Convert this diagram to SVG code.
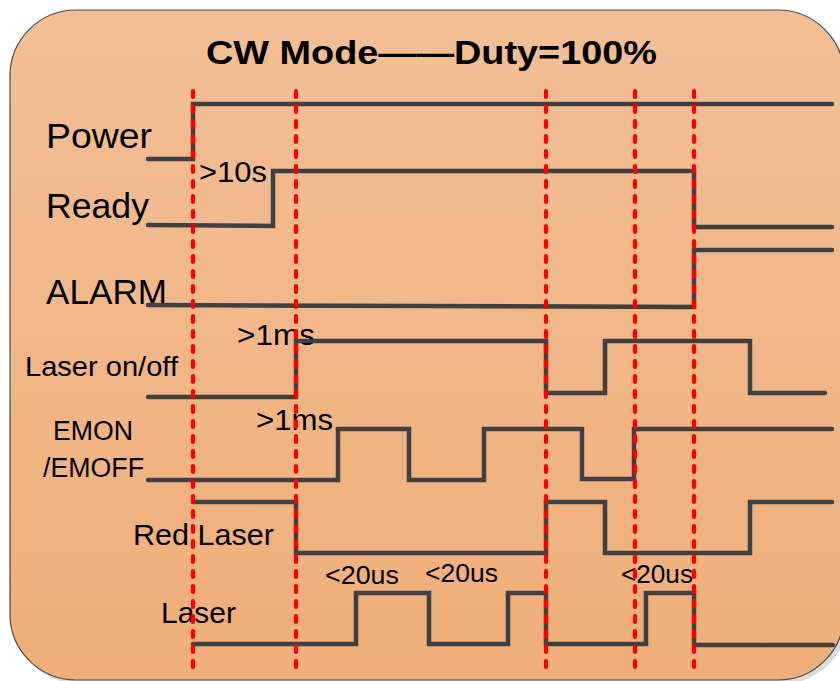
<svg xmlns="http://www.w3.org/2000/svg" width="840" height="681" viewBox="0 0 840 681">
<defs>
<linearGradient id="bg" x1="0" y1="0" x2="0" y2="1">
<stop offset="0" stop-color="#F2BF96"/>
<stop offset="1" stop-color="#EFAE79"/>
</linearGradient>
</defs>
<style>
.sig{fill:none;stroke:#404040;stroke-width:4.5;stroke-linejoin:miter;stroke-linecap:round}
.guide{fill:none;stroke:#FF0000;stroke-width:4.2;stroke-dasharray:6 9;stroke-linecap:round}
.lbl{font-family:"Liberation Sans",Arial,sans-serif;fill:#000}
.note{font-family:"Liberation Sans",Arial,sans-serif;fill:#000}
</style>
<rect width="840" height="681" fill="#FFFFFF"/>
<rect x="14" y="14" width="834" height="670" rx="66" ry="66" fill="#DCDCDC"/>
<rect x="10" y="10" width="834" height="670" rx="66" ry="66" fill="url(#bg)" stroke="#4A4A4A" stroke-width="1.2"/>
<text id="title" class="lbl" x="206" y="64" font-size="34" font-weight="bold" textLength="451" lengthAdjust="spacingAndGlyphs">CW Mode——Duty=100%</text>
<g id="power">
<text class="lbl" x="46" y="148" font-size="35" textLength="106" lengthAdjust="spacingAndGlyphs">Power</text>
<path class="sig" d="M148 159 H193 V104 H832"/>
</g>
<g id="ready">
<text class="lbl" x="46" y="218" font-size="35" textLength="103" lengthAdjust="spacingAndGlyphs">Ready</text>
<text class="note" x="199" y="182" font-size="29" textLength="68" lengthAdjust="spacingAndGlyphs">&gt;10s</text>
<path class="sig" d="M148 225 L273 226 V171 H694 V227 H832"/>
</g>
<g id="alarm">
<text class="lbl" x="46" y="304" font-size="35" textLength="121" lengthAdjust="spacingAndGlyphs">ALARM</text>
<path class="sig" d="M148 305 L694 307 V250 H832"/>
</g>
<g id="laser-onoff">
<text class="lbl" x="25" y="376" font-size="28" textLength="153" lengthAdjust="spacingAndGlyphs">Laser on/off</text>
<text class="note" x="237" y="345" font-size="29" textLength="78" lengthAdjust="spacingAndGlyphs">&gt;1ms</text>
<path class="sig" d="M148 397 H296 V341 H546 V393 H605 V341 H750 V393 H825"/>
</g>
<g id="emon">
<text class="lbl" x="53" y="440" font-size="27" textLength="80" lengthAdjust="spacingAndGlyphs">EMON</text>
<text class="lbl" x="43" y="477" font-size="27" textLength="101" lengthAdjust="spacingAndGlyphs">/EMOFF</text>
<text class="note" x="256" y="430" font-size="29" textLength="77" lengthAdjust="spacingAndGlyphs">&gt;1ms</text>
<path class="sig" d="M148 480 H338 V429 H409 V480 H484 V429 H582 V479 H634 V429 H832"/>
</g>
<g id="red-laser">
<text class="lbl" x="133" y="545" font-size="30" textLength="141" lengthAdjust="spacingAndGlyphs">Red Laser</text>
<path class="sig" d="M193 502 H296 V553 H546 V502 H605 V553 H750 V502 H832"/>
</g>
<g id="laser">
<text class="lbl" x="161" y="623" font-size="30" textLength="75" lengthAdjust="spacingAndGlyphs">Laser</text>
<text class="note" x="325" y="584" font-size="25" textLength="74" lengthAdjust="spacingAndGlyphs">&lt;20us</text>
<text class="note" x="425" y="582" font-size="25" textLength="73" lengthAdjust="spacingAndGlyphs">&lt;20us</text>
<text class="note" x="621" y="583" font-size="25" textLength="72" lengthAdjust="spacingAndGlyphs">&lt;20us</text>
<path class="sig" d="M193 644 H356 V593 H429 V644 H508 V593 H546 V644 H646 V593 H694 V645 H833"/>
</g>
<g id="connectors">
<line class="guide" x1="193" y1="91" x2="193" y2="670"/>
<line class="guide" x1="296" y1="91" x2="296" y2="670"/>
<line class="guide" x1="546" y1="91" x2="546" y2="670"/>
<line class="guide" x1="635" y1="91" x2="635" y2="670"/>
<line class="guide" x1="694" y1="91" x2="694" y2="670"/>
</g>
</svg>
